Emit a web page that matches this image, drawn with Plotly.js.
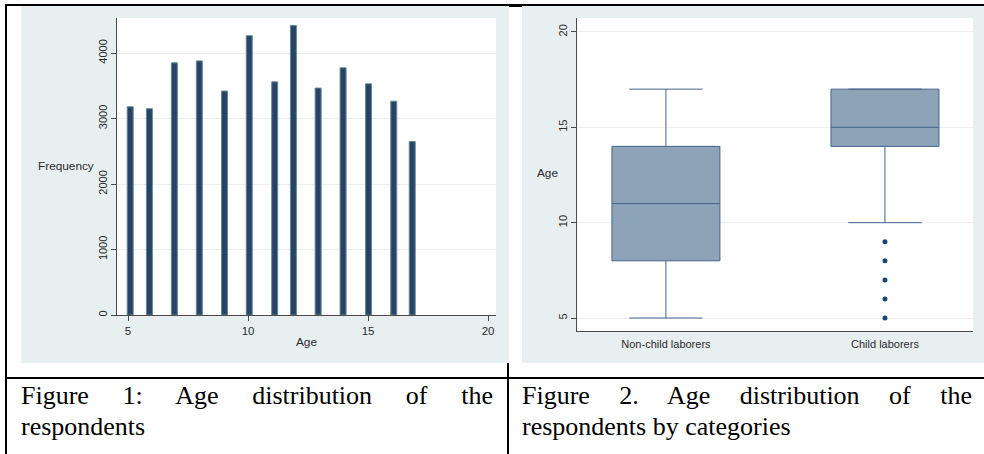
<!DOCTYPE html>
<html>
<head>
<meta charset="utf-8">
<script src="https://cdn.plot.ly/plotly-3.0.1.min.js"></script>
<style>
  html, body { margin: 0; padding: 0; background: #ffffff; }
  body { width: 984px; height: 454px; position: relative; overflow: hidden; }
  .ln { position: absolute; background: #000; }
  .fig { position: absolute; z-index: 2; }
  .cap { position: absolute; font-family: "Liberation Serif", "Times New Roman", serif; font-size: 26px;
         line-height: 31px; color: #000; text-align: justify; text-align-last: left; }
  .cap .l1 { display: block; text-align: justify; text-align-last: justify; }
</style>
</head>
<body>
<div class="ln" style="left:5px; top:4px; width:979px; height:2px;"></div>
<div class="ln" style="left:5px; top:4px; width:2px; height:450px;"></div>
<div class="ln" style="left:5px; top:377px; width:979px; height:2px;"></div>
<div class="ln" style="left:507px; top:4px; width:2px; height:450px;"></div>
<div class="ln" style="left:509px; top:4px; width:13px; height:3px;"></div>

<div id="fig1" class="fig" style="left:21px; top:6px; width:488px; height:357px;"></div>
<div id="fig2" class="fig" style="left:522px; top:6px; width:462px; height:357px;"></div>

<div class="cap" style="left:21px; top:380px; width:472px;">
  <span class="l1">Figure 1: Age distribution of the</span>respondents
</div>
<div class="cap" style="left:522px; top:380px; width:450px;">
  <span class="l1">Figure 2. Age distribution of the</span>respondents by categories
</div>

<script>
// ---- Figure 1: histogram of age (frequency) ----
const ageBins   = [5.09, 5.89, 6.93, 7.97, 9.02, 10.05, 11.11, 11.89, 12.92, 13.96, 15.02, 16.07, 16.84];
const frequency = [3180, 3150, 3850, 3880, 3420, 4265, 3560, 4420, 3465, 3775, 3530, 3265, 2650];
const fig1XTicks = [5, 10, 15, 20];
const fig1YTicks = [0, 1000, 2000, 3000, 4000];

// ---- Figure 2: box plot of age by category ----
const groups      = ["Non-child laborers", "Child laborers"];
const lowerWhisker = [5, 10];
const q1          = [8, 14];
const medianAge   = [11, 15];
const q3          = [14, 17];
const upperWhisker = [17, 17];
const outlierAges = [5, 6, 7, 8, 9];
const outlierGroup = ["Child laborers", "Child laborers", "Child laborers", "Child laborers", "Child laborers"];
const fig2YTicks  = [5, 10, 15, 20];

const bg = "#e8eff1";
const grid = "#eaf0f2";
const axisCol = "#4a4a4a";
const textCol = "#2a2a2a";
const fontFam = "Liberation Sans, Arial, sans-serif";
const cfg = { staticPlot: true, displayModeBar: false };

Plotly.newPlot("fig1", [{
  type: "bar",
  x: ageBins,
  y: frequency,
  width: 0.25,
  marker: { color: "#2a4169", line: { color: "#5f8f8c", width: 1 } },
  hoverinfo: "skip"
}], {
  width: 488, height: 357,
  margin: { l: 96, r: 13, t: 12, b: 48, pad: 0 },
  paper_bgcolor: bg, plot_bgcolor: "#ffffff",
  showlegend: false,
  font: { family: fontFam, size: 11, color: textCol },
  xaxis: {
    range: [4.54, 20.33], tickmode: "array", tickvals: fig1XTicks, ticktext: fig1XTicks.map(String),
    showgrid: false, zeroline: false, showline: true, linecolor: axisCol, linewidth: 1,
    ticks: "outside", ticklen: 5, tickcolor: axisCol, tickfont: { size: 11.5, color: textCol }
  },
  yaxis: {
    range: [0, 4535], tickmode: "array", tickvals: fig1YTicks, ticktext: fig1YTicks.map(String),
    tickangle: -90, showgrid: true, gridcolor: grid, gridwidth: 1, zeroline: false,
    showline: true, linecolor: axisCol, linewidth: 1,
    ticks: "outside", ticklen: 5, tickcolor: axisCol, tickfont: { size: 11, color: textCol }
  },
  annotations: [
    { text: "Frequency", xref: "paper", yref: "paper", x: 0, y: 0.5, xanchor: "center", yanchor: "middle",
      xshift: -51, yshift: 1, showarrow: false, font: { size: 11.8, color: textCol } },
    { text: "Age", xref: "paper", yref: "paper", x: 0.5, y: 0, xanchor: "center", yanchor: "middle",
      yshift: -27, showarrow: false, font: { size: 11.8, color: textCol } }
  ]
}, cfg);

Plotly.newPlot("fig2", [{
  type: "box",
  x: groups,
  q1: q1, median: medianAge, q3: q3,
  lowerfence: lowerWhisker, upperfence: upperWhisker,
  width: 0.493, whiskerwidth: 0.68,
  fillcolor: "#8da4b8",
  line: { color: "#44638a", width: 1 },
  hoverinfo: "skip"
}, {
  type: "scatter", mode: "markers",
  x: outlierGroup, y: outlierAges,
  marker: { color: "#1a476f", size: 5, symbol: "circle" },
  hoverinfo: "skip"
}], {
  width: 462, height: 357,
  margin: { l: 55, r: 11, t: 12, b: 32, pad: 0 },
  paper_bgcolor: bg, plot_bgcolor: "#ffffff",
  showlegend: false,
  font: { family: fontFam, size: 11, color: textCol },
  xaxis: {
    type: "category", categoryorder: "array", categoryarray: groups,
    range: [-0.406, 1.402], showgrid: false, zeroline: false,
    showline: true, linecolor: axisCol, linewidth: 1, ticks: "",
    ticklabelstandoff: 3,
    tickfont: { size: 11, color: textCol }
  },
  yaxis: {
    range: [4.32, 20.73], tickmode: "array", tickvals: fig2YTicks, ticktext: fig2YTicks.map(String),
    tickangle: -90, showgrid: true, gridcolor: grid, gridwidth: 1, zeroline: false,
    showline: true, linecolor: axisCol, linewidth: 1,
    ticks: "outside", ticklen: 5, tickcolor: axisCol, tickfont: { size: 11, color: textCol }
  },
  annotations: [
    { text: "Age", xref: "paper", yref: "paper", x: 0, y: 1 - 155 / 313, xanchor: "center", yanchor: "middle",
      xshift: -30, showarrow: false, font: { size: 11.8, color: textCol } }
  ]
}, cfg);
</script>
</body>
</html>
